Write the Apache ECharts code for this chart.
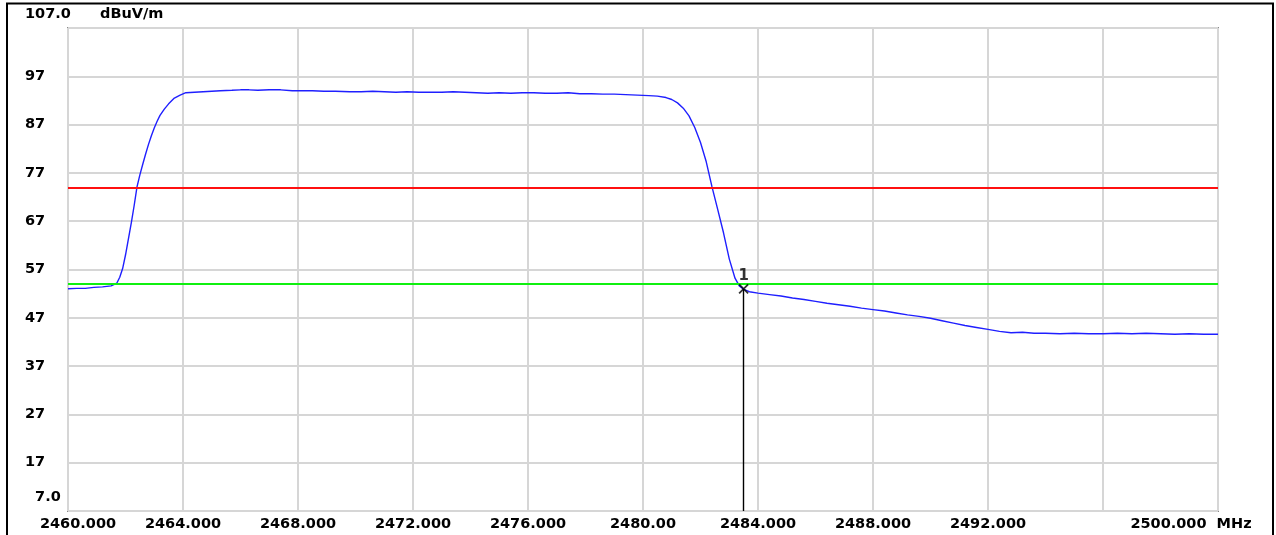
<!DOCTYPE html>
<html>
<head>
<meta charset="utf-8">
<script src="https://cdn.jsdelivr.net/npm/echarts@6/dist/echarts.min.js"></script>
<style>
  html, body { margin: 0; padding: 0; background: #ffffff; }
  #chart { width: 1276px; height: 535px; }
</style>
</head>
<body>
<div id="chart"></div>
<script>
// Spectrum sweep, 2460–2500 MHz, field strength in dBuV/m
var freqMHz = [
  2460.0, 2460.3, 2460.6, 2460.9, 2461.2, 2461.5, 2461.7, 2461.8, 2461.9, 2462.0,
  2462.1, 2462.2, 2462.3, 2462.4, 2462.5, 2462.6, 2462.7, 2462.8, 2462.9, 2463.0,
  2463.1, 2463.2, 2463.35, 2463.5, 2463.7, 2463.9, 2464.1, 2464.4, 2464.7, 2465.0,
  2465.3, 2465.7, 2466.0, 2466.3, 2466.6, 2467.0, 2467.4, 2467.8, 2468.1, 2468.5,
  2468.9, 2469.3, 2469.8, 2470.2, 2470.6, 2471.0, 2471.4, 2471.8, 2472.2, 2472.6,
  2473.0, 2473.4, 2473.8, 2474.2, 2474.6, 2475.0, 2475.4, 2475.8, 2476.2, 2476.6,
  2477.0, 2477.4, 2477.8, 2478.2, 2478.6, 2479.0, 2479.4, 2479.8, 2480.2, 2480.5,
  2480.8, 2481.0, 2481.2, 2481.4, 2481.6, 2481.8, 2482.0, 2482.2, 2482.4, 2482.6,
  2482.8, 2483.0, 2483.2, 2483.35, 2483.5, 2483.7, 2484.0, 2484.4, 2484.8, 2485.2,
  2485.6, 2486.0, 2486.4, 2486.8, 2487.2, 2487.6, 2488.0, 2488.4, 2488.8, 2489.2,
  2489.6, 2490.0, 2490.4, 2490.8, 2491.2, 2491.6, 2492.0, 2492.4, 2492.8, 2493.2,
  2493.6, 2494.0, 2494.5, 2495.0, 2495.5, 2496.0, 2496.5, 2497.0, 2497.5, 2498.0,
  2498.5, 2499.0, 2499.5, 2500.0
];
var levelDbuV = [
  53.0, 53.1, 53.1, 53.3, 53.4, 53.6, 54.2, 55.4, 57.2, 60.0,
  63.3, 66.6, 70.2, 74.1, 76.6, 78.8, 80.9, 82.9, 84.7, 86.3,
  87.7, 88.9, 90.2, 91.3, 92.5, 93.1, 93.6, 93.7, 93.8, 93.9,
  94.0, 94.1, 94.2, 94.2, 94.1, 94.2, 94.2, 94.0, 94.0, 94.0,
  93.9, 93.9, 93.8, 93.8, 93.9, 93.8, 93.7, 93.8, 93.7, 93.7,
  93.7, 93.8, 93.7, 93.6, 93.5, 93.6, 93.5, 93.6, 93.6, 93.5,
  93.5, 93.6, 93.4, 93.4, 93.3, 93.3, 93.2, 93.1, 93.0, 92.9,
  92.6, 92.2, 91.5, 90.4, 88.8, 86.4, 83.3, 79.3, 74.1, 69.4,
  64.6, 59.2, 55.2, 53.6, 52.9, 52.4, 52.1, 51.8, 51.5, 51.1,
  50.8, 50.4, 50.0, 49.7, 49.4, 49.0, 48.7, 48.4, 48.0, 47.6,
  47.3, 46.9, 46.4, 45.9, 45.4, 45.0, 44.6, 44.2, 43.9, 44.0,
  43.8, 43.8, 43.7, 43.8, 43.7, 43.7, 43.8, 43.7, 43.8, 43.7,
  43.6, 43.7, 43.6, 43.6
];

// Limit lines (peak / average)
var peakLimit = 74;
var avgLimit = 54;

// Marker 1
var markerFreq = 2483.5;
var markerLevel = 53.0;
var markerName = '1';

// Axis ranges and tick labels
var xMin = 2460, xMax = 2500, xStep = 4;
var yMin = 7, yMax = 107, yStep = 10;
var xTickLabels = ['2460.000', '2464.000', '2468.000', '2472.000', '2476.000', '2480.00',
                   '2484.000', '2488.000', '2492.000', '', '2500.000  MHz'];
var yTickLabels = ['7.0', '17', '27', '37', '47', '57', '67', '77', '87', '97', '107.0'];
var yUnit = 'dBuV/m';

var traceData = freqMHz.map(function (f, i) { return [f, levelDbuV[i]]; });

var FONT = 'DejaVu Sans';

var chart = echarts.init(document.getElementById('chart'), null, { renderer: 'canvas' });

chart.setOption({
  animation: false,
  backgroundColor: '#ffffff',
  graphic: [{
    type: 'rect',
    shape: { x: 7, y: 3.5, width: 1266, height: 560 },
    style: { fill: 'none', stroke: '#000000', lineWidth: 2 },
    silent: true
  }],
  grid: {
    left: 68, right: 58, top: 28, bottom: 24,
    show: true,
    borderColor: '#8a8a8a',
    borderWidth: 2,
    backgroundColor: '#ffffff'
  },
  xAxis: {
    type: 'value',
    min: xMin, max: xMax, interval: xStep,
    axisLine: { show: false },
    axisTick: { show: false },
    splitLine: { show: true, lineStyle: { color: '#d6d6d6', width: 2 } },
    axisLabel: {
      show: true,
      margin: 6,
      color: '#000000',
      fontFamily: FONT,
      fontWeight: 'bold',
      fontSize: 14.5,
      showMinLabel: true,
      showMaxLabel: true,
      formatter: function (v) {
        var idx = Math.round((v - xMin) / xStep);
        var t = xTickLabels[idx] || '';
        if (idx === 0) return '{first|' + t + '}';
        if (idx === xTickLabels.length - 1) return '{last|' + t + '}';
        return t;
      },
      rich: {
        first: { fontFamily: FONT, fontWeight: 'bold', fontSize: 14.5, color: '#000', padding: [0, 0, 0, 20] },
        last: { fontFamily: FONT, fontWeight: 'bold', fontSize: 14.5, color: '#000', padding: [0, 54, 0, 0] }
      }
    }
  },
  yAxis: {
    type: 'value',
    min: yMin, max: yMax, interval: yStep,
    name: yUnit,
    nameLocation: 'end',
    nameGap: 14,
    nameTextStyle: {
      color: '#000000', fontFamily: FONT, fontWeight: 'bold', fontSize: 14.5,
      align: 'left', verticalAlign: 'middle', padding: [0, 0, 0, 32]
    },
    axisLine: { show: false },
    axisTick: { show: false },
    splitLine: { show: true, lineStyle: { color: '#d6d6d6', width: 2 } },
    axisLabel: {
      show: true,
      align: 'left',
      margin: 43,
      lineHeight: 14,
      color: '#000000',
      fontFamily: FONT,
      fontWeight: 'bold',
      fontSize: 14.5,
      showMinLabel: true,
      showMaxLabel: true,
      formatter: function (v) {
        var idx = Math.round((v - yMin) / yStep);
        var t = yTickLabels[idx] || '';
        if (idx === 0) return '  ' + t + '\n\n';
        if (idx === yTickLabels.length - 1) return t + '\n\n';
        return t;
      }
    }
  },
  series: [
    {
      name: 'trace',
      type: 'line',
      data: traceData,
      showSymbol: false,
      symbol: 'none',
      smooth: false,
      lineStyle: { color: '#1f1fff', width: 1.4 },
      z: 3,
      markLine: {
        silent: true,
        symbol: ['none', 'none'],
        label: { show: false },
        data: [
          { yAxis: peakLimit, lineStyle: { color: '#ff1010', width: 2, type: 'solid' } },
          { yAxis: avgLimit, lineStyle: { color: '#10f010', width: 2, type: 'solid' } }
        ]
      }
    },
    {
      name: 'marker',
      type: 'scatter',
      data: [[markerFreq, markerLevel]],
      symbol: 'path://M0,0L10,10M10,0L0,10',
      symbolSize: 9,
      itemStyle: { color: 'transparent', borderColor: '#000000', borderWidth: 1.8 },
      label: {
        show: true,
        position: 'top',
        distance: 0,
        formatter: markerName,
        color: '#000000',
        fontFamily: FONT,
        fontWeight: 'bold',
        fontSize: 15
      },
      z: 5,
      markLine: {
        silent: true,
        symbol: ['none', 'none'],
        label: { show: false },
        lineStyle: { color: '#000000', width: 1.4, type: 'solid' },
        data: [[
          { coord: [markerFreq, markerLevel] },
          { coord: [markerFreq, yMin] }
        ]]
      }
    }
  ]
});
</script>
</body>
</html>
